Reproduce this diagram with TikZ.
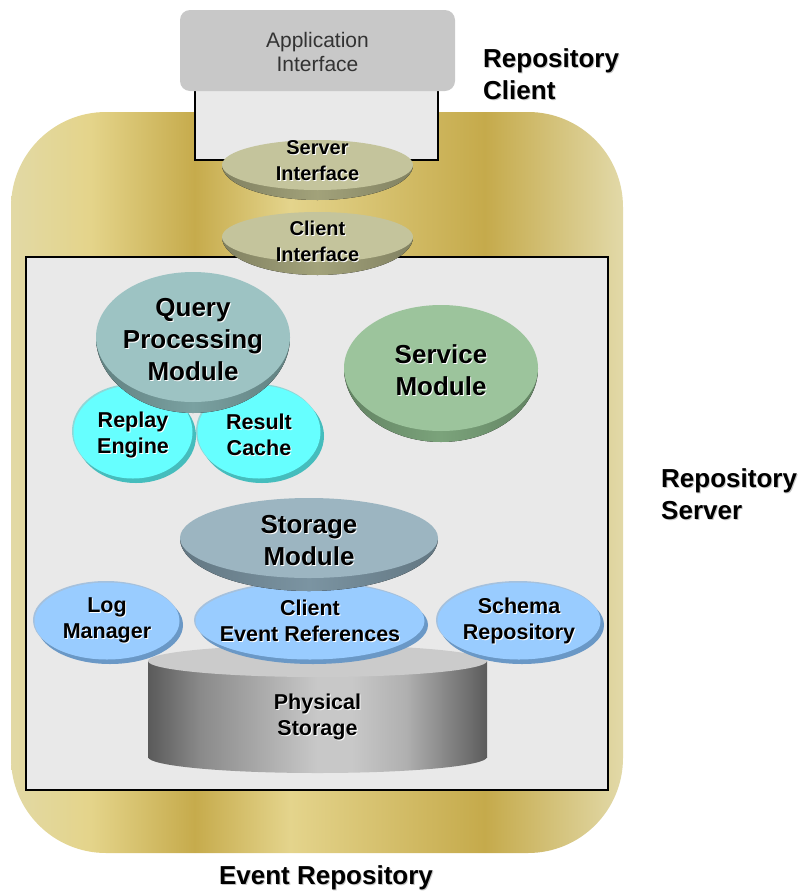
\documentclass[tikz,border=0pt]{standalone}
\usepackage{fontspec}
\setmainfont{Liberation Sans}

% palette
\definecolor{g0}{HTML}{E2D9A5}
\definecolor{g1}{HTML}{E4D48A}
\definecolor{g2}{HTML}{C6AB4C}
\definecolor{g3}{HTML}{E4D48C}
\definecolor{g4}{HTML}{C5AA4B}
\definecolor{g5}{HTML}{E2D9A8}
\definecolor{c0}{HTML}{5A5A5A}
\definecolor{c1}{HTML}{8A8A8A}
\definecolor{c2}{HTML}{C8C8C8}
\definecolor{c3}{HTML}{B0B0B0}
\definecolor{c4}{HTML}{5C5C5C}
\definecolor{panel}{HTML}{E9E9E9}
\definecolor{appgrey}{HTML}{C8C8C8}
\definecolor{apptext}{HTML}{333333}
\definecolor{olivetop}{HTML}{C4C49C}
\definecolor{oliverim}{HTML}{A2A27A}
\definecolor{tealtop}{HTML}{9DC3C3}
\definecolor{tealrim}{HTML}{7AA1A1}
\definecolor{greentop}{HTML}{9CC49C}
\definecolor{greenrim}{HTML}{7BA37B}
\definecolor{steeltop}{HTML}{9CB5C1}
\definecolor{steelrim}{HTML}{7B94A2}
\definecolor{cyantop}{HTML}{66FFFF}
\definecolor{cyanrim}{HTML}{45BDBD}
\definecolor{skytop}{HTML}{99CCFF}
\definecolor{skyrim}{HTML}{6A98C6}
\definecolor{drumtop}{HTML}{CBCBCB}

% gold band across the server frame and the drum side of the storage
\pgfdeclarehorizontalshading{goldband}{100bp}{color(0bp)=(g0); color(25bp)=(g0);
  color(31.5bp)=(g1); color(40bp)=(g2); color(47.8bp)=(g3); color(63.7bp)=(g4);
  color(75bp)=(g5); color(100bp)=(g5)}
\pgfdeclarehorizontalshading{drumside}{100bp}{color(0bp)=(c0); color(25bp)=(c0);
  color(32.7bp)=(c1); color(50bp)=(c2); color(55bp)=(c2); color(63bp)=(c3);
  color(75bp)=(c4); color(100bp)=(c4)}

% embossed labels: white (or grey) copy offset behind the black text
\newcommand\sh[1]{\rlap{\kern1pt\raisebox{-1pt}{\color{white}#1}}#1}
\newcommand\shg[1]{\rlap{\kern1pt\raisebox{-1pt}{\color{black!22}#1}}#1}

% disk with a crescent rim below: cx, cy, rx, ry, depth, top colour, rim colour
\newcommand\lensdisk[7]{%
  \begin{scope}
    \clip (#1-#3-1,#2) rectangle (#1+#3+1,#2+#4+#5+1);
    \fill[left color=#7!80!black, right color=#7!80!black, middle color=#7]
      (#1,#2) ellipse [x radius=#3, y radius=#4+#5];
  \end{scope}
  \fill[#6] (#1,#2) ellipse [x radius=#3, y radius=#4];}
% disk with a small rim to the lower right: cx, cy, rx, ry, top colour, rim colour
\newcommand\paddisk[6]{%
  \fill[#6] (#1+3,#2+4) ellipse [x radius=#3, y radius=#4];
  \fill[#6!60!white] (#1-1,#2-1) ellipse [x radius=#3, y radius=#4];
  \fill[#5] (#1,#2) ellipse [x radius=#3-0.5, y radius=#4-0.5];}

\tikzset{
  bigtext/.style={font=\bfseries\fontsize{26}{32}\selectfont},
  smalltext/.style={font=\bfseries\fontsize{20}{26}\selectfont},
  parttext/.style={font=\bfseries\fontsize{21.5}{26}\selectfont},
  outlabel/.style={font=\bfseries\fontsize{26}{32}\selectfont},
}

\begin{document}
\begin{tikzpicture}[x=1pt,y=-1pt,every node/.style={inner sep=0pt,align=center}]
\useasboundingbox (0,0) rectangle (804,892);

% server frame
\shade[shading=goldband,rounded corners=95pt] (11,112) rectangle (623,853);

% client box below the application interface
\draw[fill=panel,line width=1.8pt] (195,80) rectangle (438,160);
\fill[appgrey,rounded corners=10pt] (180,10) rectangle (455,91);
\node[font=\fontsize{21}{24}\selectfont,text=apptext] (app) at (317.5,52)
  {Application\\Interface};

% inner server area
\draw[fill=panel,line width=1.8pt] (26,257) rectangle (608,790);

% interfaces
\lensdisk{317.5}{165}{95.5}{25}{10}{olivetop}{oliverim}
\node[smalltext] (srvif) at (317.5,161) {\sh{Server}\\\sh{Interface}};
\lensdisk{317.5}{237}{95.5}{25}{13}{olivetop}{oliverim}
\node[smalltext] (cliif) at (317.5,242) {\sh{Client}\\\sh{Interface}};

% query processing and its helpers
\paddisk{133}{432}{60}{47}{cyantop}{cyanrim}
\node[parttext] (replay) at (133,435) {\sh{Replay}\\\sh{Engine}};
\paddisk{259}{432}{62}{47}{cyantop}{cyanrim}
\node[parttext] (result) at (259,435) {\sh{Result}\\\sh{Cache}};
\lensdisk{193}{337}{97}{65}{11}{tealtop}{tealrim}
\node[bigtext] (query) at (193,340) {\sh{Query}\\\sh{Processing}\\\sh{Module}};

% service module
\lensdisk{441}{368}{97}{63}{11}{greentop}{greenrim}
\node[bigtext] (service) at (441,371) {\sh{Service}\\\sh{Module}};

% physical storage drum
\shade[shading=drumside] (148,661) rectangle (487,757);
\begin{scope}
  \clip (147,757) rectangle (488,775);
  \shade[shading=drumside] (317.5,757) ellipse [x radius=169.5, y radius=16];
\end{scope}
\fill[drumtop] (317.5,661) ellipse [x radius=169.5, y radius=16];
\node[parttext] (physical) at (317.5,717) {\sh{Physical}\\\sh{Storage}};

% storage components
\paddisk{107}{621}{73}{39}{skytop}{skyrim}
\node[parttext] (logmgr) at (107,621) {\sh{Log}\\\sh{Manager}};
\paddisk{310}{621}{115}{39}{skytop}{skyrim}
\node[parttext] (clientev) at (310,621) {\sh{Client}\\\sh{Event References}};
\paddisk{519}{621}{82}{39}{skytop}{skyrim}
\node[parttext] (schema) at (519,621) {\sh{Schema}\\\sh{Repository}};
\lensdisk{309}{538}{129}{40}{13}{steeltop}{steelrim}
\node[bigtext] (storage) at (309,541) {\sh{Storage}\\\sh{Module}};

% outside labels
\node[outlabel,anchor=west,align=left] (lblclient) at (483,75) {\shg{Repository}\\\shg{Client}};
\node[outlabel,anchor=west,align=left] (lblserver) at (661,495) {\shg{Repository}\\\shg{Server}};
\node[outlabel] (lblevent) at (326,878) {\shg{Event Repository}};
\end{tikzpicture}
\end{document}
